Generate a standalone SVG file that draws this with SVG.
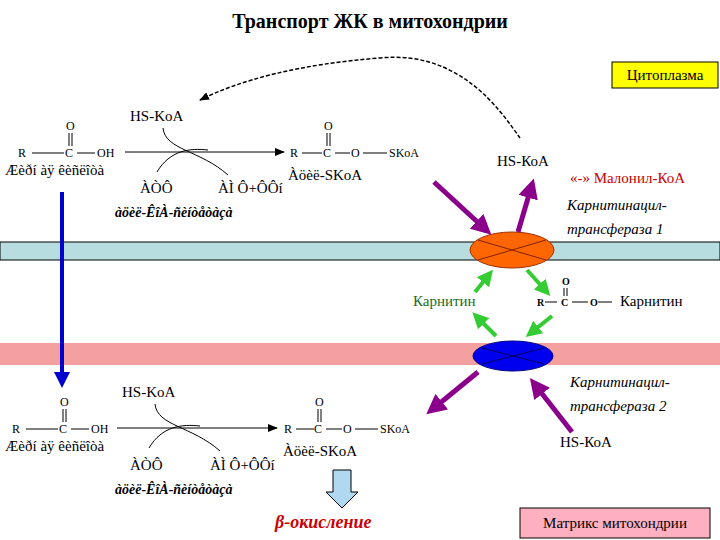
<svg xmlns="http://www.w3.org/2000/svg" width="720" height="540" viewBox="0 0 720 540" font-family="'Liberation Serif', 'Times New Roman', serif">
<style>
text{font-family:"Liberation Serif","Times New Roman",serif;font-size:15px;fill:#000}
.s{font-size:12px}
.it{font-style:italic;font-weight:bold;font-size:14px}
.ln{stroke:#000;stroke-width:1;fill:none}
.p{stroke:#8B008B;stroke-width:5;fill:none;marker-end:url(#mp)}
.g{stroke:#33CC33;stroke-width:4;fill:none;marker-end:url(#mg)}
</style>
<defs>
<marker id="mp" markerWidth="4" markerHeight="4" refX="2" refY="2" orient="auto"><path d="M0,0L4,2L0,4z" fill="#8B008B"/></marker>
<marker id="mg" markerWidth="4" markerHeight="4" refX="2" refY="2" orient="auto"><path d="M0,0L4,2L0,4z" fill="#33CC33"/></marker>
<marker id="mk" markerWidth="10" markerHeight="8" refX="9" refY="4" orient="auto" markerUnits="userSpaceOnUse"><path d="M0,0L10,4L0,8z" fill="#000"/></marker>
<marker id="mb" markerWidth="4" markerHeight="4" refX="2" refY="2" orient="auto"><path d="M0,0L4,2L0,4z" fill="#0000CC"/></marker>
</defs>
<text x="370" y="28" text-anchor="middle" style="font-size:20px;font-weight:bold">Транспорт ЖК в митохондрии</text>
<g id="cyto"><rect x="612" y="62" width="106" height="26" fill="#FFFF00" stroke="#000"/><text x="665" y="80" text-anchor="middle">Цитоплазма</text></g>
<g id="membranes">
<rect x="0" y="242" width="720" height="18" fill="#B8DDE0" stroke="#000"/>
<rect x="0" y="343" width="720" height="22" fill="#F4A0A0"/>
</g>
<g id="top-reaction">
<text x="130" y="121">HS-KoA</text>
<text x="66" y="130" class="s">O</text><path class="ln" d="M69,133V146M72,133V146M32,153H64M77,153H95"/>
<text x="18" y="157" class="s">R</text><text x="65" y="157" class="s">C</text><text x="97" y="157" class="s">OH</text>
<text x="5" y="175">Æèðí àÿ êèñëîòà</text>
<text x="140" y="193">ÀÒÔ</text><text x="218" y="193">ÀÌ  Ô+ÔÔí</text>
<text x="115" y="217" class="it">àöèë-ÊîÀ-ñèíòåòàçà</text>
<path class="ln" d="M125,152H284" marker-end="url(#mk)"/>
<path class="ln" d="M163,128C165,150 200,150 228,175"/>
<path class="ln" d="M157,172C170,150 190,148 208,150"/>
<text x="324" y="130" class="s">O</text><path class="ln" d="M327,133V146M330,133V146M302,153H322M335,153H350M363,153H387"/>
<text x="290" y="157" class="s">R</text><text x="323" y="157" class="s">C</text><text x="351" y="157" class="s">O</text><text x="389" y="157" class="s">SKoA</text>
<text x="288" y="180">Àöèë-SKoA</text>
</g>
<g id="bottom-reaction">
<text x="122" y="397">HS-KoA</text>
<text x="60" y="406" class="s">O</text><path class="ln" d="M63,409V422M66,409V422M26,429H58M71,429H89"/>
<text x="12" y="433" class="s">R</text><text x="59" y="433" class="s">C</text><text x="91" y="433" class="s">OH</text>
<text x="5" y="451">Æèðí àÿ êèñëîòà</text>
<text x="130" y="470">ÀÒÔ</text><text x="210" y="470">ÀÌ  Ô+ÔÔí</text>
<text x="115" y="494" class="it">àöèë-ÊîÀ-ñèíòåòàçà</text>
<path class="ln" d="M117,428H277" marker-end="url(#mk)"/>
<path class="ln" d="M155,404C157,426 192,426 220,451"/>
<path class="ln" d="M149,448C162,426 182,424 200,426"/>
<text x="315" y="406" class="s">O</text><path class="ln" d="M318,409V422M321,409V422M296,429H314M326,429H342M355,429H378"/>
<text x="284" y="433" class="s">R</text><text x="314" y="433" class="s">C</text><text x="343" y="433" class="s">O</text><text x="380" y="433" class="s">SKoA</text>
<text x="283" y="456">Àöèë-SKoA</text>
</g>
<g id="cpt1"><ellipse cx="512" cy="250" rx="42" ry="18" fill="#FF6600" stroke="#A03000"/><path d="M478,240L546,260M478,260L546,240" stroke="#802000"/></g>
<g id="cpt2"><ellipse cx="513" cy="356" rx="40" ry="15" fill="#0000EE" stroke="#000080"/><path d="M482,348L544,364M482,364L544,348" stroke="#000060"/></g>
<g id="labels">
<text x="497" y="166">HS-КоА</text>
<text x="570" y="183" style="fill:#CC0000">«-» Малонил-КоА</text>
<text x="567" y="210" style="font-style:italic">Карнитинацил-</text>
<text x="567" y="234" style="font-style:italic">трансфераза 1</text>
<text x="413" y="306" style="fill:#1A6B1A">Карнитин</text>
<text x="562" y="285" style="font-weight:bold;font-size:10px">O</text>
<path class="ln" d="M564,288V296M567,288V296M545,302H557M572,302H588M598,302H612" />
<text x="537" y="306" style="font-weight:bold;font-size:10px">R</text><text x="561" y="306" style="font-weight:bold;font-size:10px">C</text><text x="590" y="306" style="font-weight:bold;font-size:10px">O</text>
<text x="620" y="306">Карнитин</text>
<text x="570" y="387" style="font-style:italic">Карнитинацил-</text>
<text x="570" y="411" style="font-style:italic">трансфераза 2</text>
<text x="560" y="447">HS-КоА</text>
<text x="275" y="528" style="fill:#CC0000;font-style:italic;font-weight:bold;font-size:18px">β-окисление</text>
</g>
<g id="matrix"><rect x="520" y="508" width="190" height="30" fill="#FFB0C0" stroke="#000"/><text x="615" y="528" text-anchor="middle">Матрикс митохондрии</text></g>
<g id="connectors">
<path d="M520,138C500,110 460,50 380,58C300,64 240,80 200,100" stroke="#000" stroke-width="1.5" stroke-dasharray="4,2" fill="none" marker-end="url(#mk)"/>
<path class="p" d="M434,182L484,228"/>
<path class="p" d="M518,232L531,188"/>
<path class="p" d="M478,372L434,408"/>
<path class="p" d="M572,432L536,386"/>
<path class="g" d="M475,292L488,276"/>
<path class="g" d="M527,270L545,290"/>
<path class="g" d="M552,316L532,332"/>
<path class="g" d="M496,336L478,318"/>
<path d="M62,192V380" stroke="#0000CC" stroke-width="4" marker-end="url(#mb)"/>
<path d="M333,470H351V492H358L342,508L326,492H333Z" fill="#B0D8F0" stroke="#000"/>
</g>
</svg>
